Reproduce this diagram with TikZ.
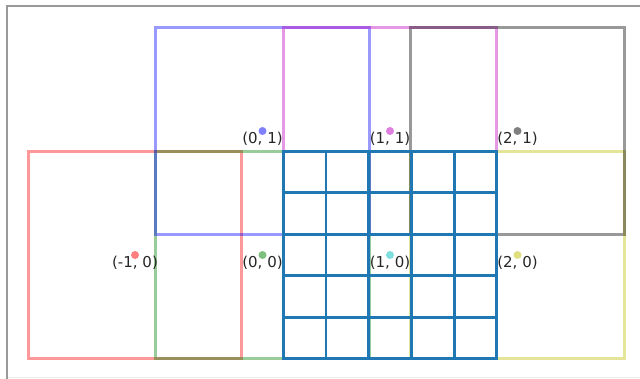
\documentclass[tikz,border=0pt]{standalone}
\usepackage{fontspec}
\setmainfont{DejaVu Sans}
\usetikzlibrary{calc}
\definecolor{tabblue}{RGB}{31,119,180}
\definecolor{mplgreen}{rgb}{0,0.5,0}
\definecolor{mplcyan}{rgb}{0,0.75,0.75}
\definecolor{mplmag}{rgb}{0.75,0,0.75}
\definecolor{mplyel}{rgb}{0.75,0.75,0}
\begin{document}
\begin{tikzpicture}[x=1pt,y=-1pt,
  sq/.style={draw=#1, draw opacity=0.4, line width=3pt, minimum width=213.5pt, minimum height=207pt, inner sep=0pt, outer sep=0pt},
  dot/.style={circle, fill=#1, fill opacity=0.5, minimum size=8pt, inner sep=0pt},
  lbl/.style={anchor=base, font=\fontsize{15}{18}\selectfont, inner sep=0pt, text=black!85},
  frame/.style={draw=black!40, line width=2pt},
  gridline/.style={draw=tabblue, line width=2.9pt, line cap=rect}
]
\useasboundingbox (0,0) rectangle (640,379);
% frame
\coordinate (ftl) at (7,6);
\coordinate (ftr) at (641,6);
\coordinate (fbl) at (7,380);
\coordinate (fbr) at (641,377.5);
\draw[draw=black!8, line width=1.5pt] (fbl |- fbr) -- (fbr);
\draw[frame] (fbl) -- (ftl) -- (ftr);
% squares
\node[sq=red] (sm10) at (135,255) {};
\node[sq=mplgreen] (s00) at (262.5,255) {};
\node[sq=blue] (s01) at (262.5,131) {};
\node[sq=mplcyan] (s10) at (390,255) {};
\node[sq=mplmag] (s11) at (390,131) {};
\node[sq=mplyel] (s20) at (517.5,255) {};
\node[sq=black] (s21) at (517.5,131) {};
% grid on the (1,0) tile
\foreach \i in {0,...,5} {
  \draw[gridline] ($(s10.north west)!\i/5!(s10.north east)$) -- ($(s10.south west)!\i/5!(s10.south east)$);
  \draw[gridline] ($(s10.north west)!\i/5!(s10.south west)$) -- ($(s10.north east)!\i/5!(s10.south east)$);
}
% labels
\node[lbl] (tm10) at ($(sm10.center)+(0,13)$) {(-1, 0)};
\node[lbl] (t00) at ($(s00.center)+(0,13)$) {(0, 0)};
\node[lbl] (t01) at ($(s01.center)+(0,13)$) {(0, 1)};
\node[lbl] (t10) at ($(s10.center)+(0,13)$) {(1, 0)};
\node[lbl] (t11) at ($(s11.center)+(0,13)$) {(1, 1)};
\node[lbl] (t20) at ($(s20.center)+(0,13)$) {(2, 0)};
\node[lbl] (t21) at ($(s21.center)+(0,13)$) {(2, 1)};
% dots
\node[dot=red] (dm10) at (sm10.center) {};
\node[dot=mplgreen] (d00) at (s00.center) {};
\node[dot=blue] (d01) at (s01.center) {};
\node[dot=mplcyan] (d10) at (s10.center) {};
\node[dot=mplmag] (d11) at (s11.center) {};
\node[dot=mplyel] (d20) at (s20.center) {};
\node[dot=black] (d21) at (s21.center) {};
\end{tikzpicture}
\end{document}
